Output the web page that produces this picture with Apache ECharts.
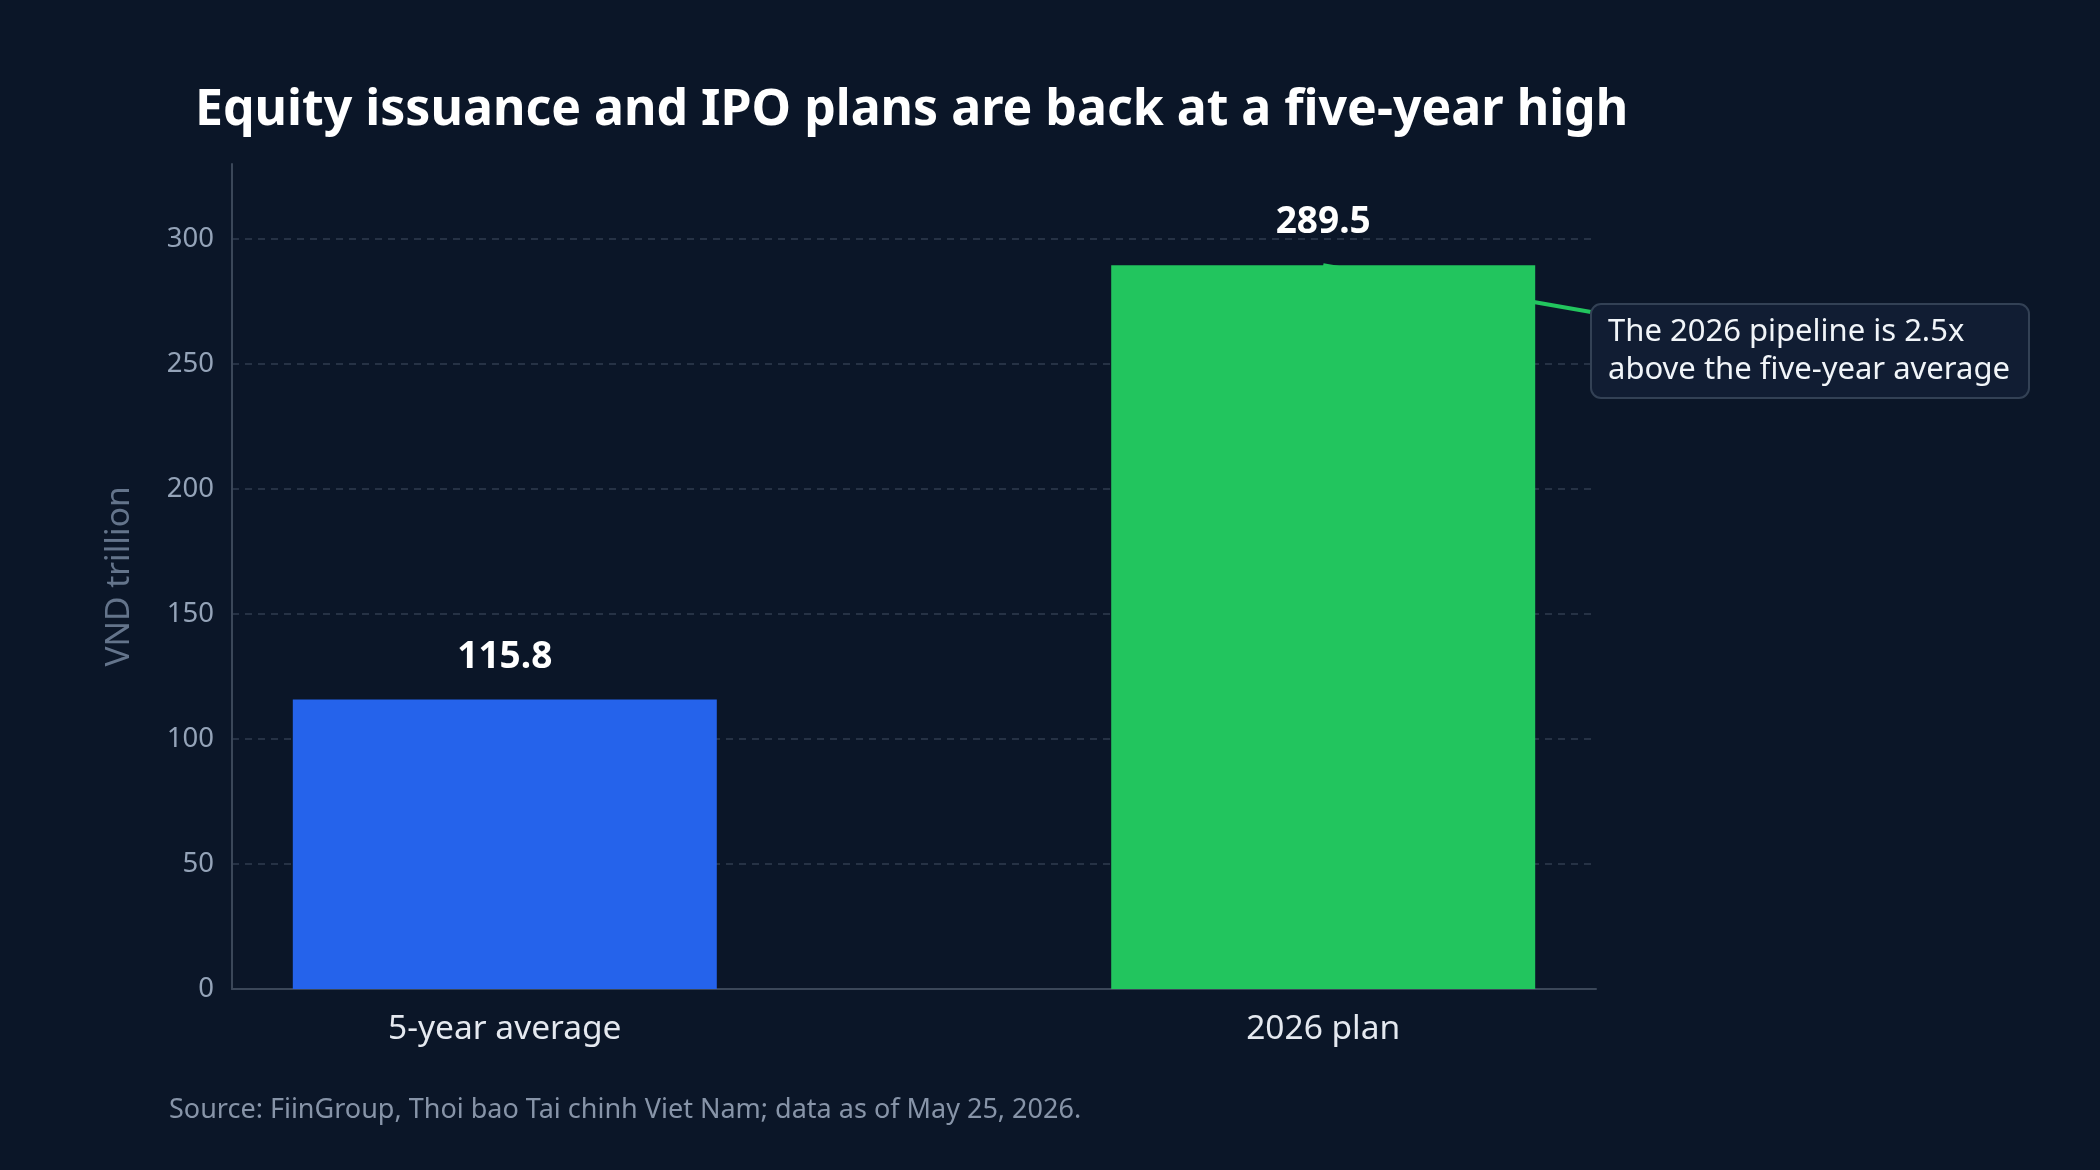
<!DOCTYPE html>
<html>
<head>
<meta charset="utf-8">
<script src="https://cdn.jsdelivr.net/npm/echarts@6/dist/echarts.min.js"></script>
<style>
html,body{margin:0;padding:0;background:#0b1628;}
#chart{width:2100px;height:1170px;}
</style>
</head>
<body>
<div id="chart"></div>
<script>
var titleText = 'Equity issuance and IPO plans are back at a five-year high';
var categories = ['5-year average', '2026 plan'];
var values = [115.8, 289.5];
var barColors = ['#2563eb', '#22c55e'];
var yTickInterval = 50;
var yMax = 330;
var yAxisName = 'VND trillion';
var noteLines = ['The 2026 pipeline is 2.5x', 'above the five-year average'];
var sourceText = 'Source: FiinGroup, Thoi bao Tai chinh Viet Nam; data as of May 25, 2026.';

// padded category axis so the two bars sit at 20% / 80% of the plot width
var slots = ['', categories[0], '', '', categories[1], ''];
var slotIndex = [1, 4];
var seriesData = slots.map(function(){ return null; });
slotIndex.forEach(function(si, i){
  seriesData[si] = { value: values[i], itemStyle: { color: barColors[i] } };
});

var chart = echarts.init(document.getElementById('chart'));
var option = {
  backgroundColor: '#0b1628',
  animation: false,
  textStyle: { fontFamily: 'Noto Sans' },
  title: {
    text: titleText,
    left: 190, top: 81,
    textStyle: { color: '#ffffff', fontSize: 50, fontWeight: 'bold', fontFamily: 'Noto Sans' }
  },
  grid: { left: 232, right: 504, top: 164, bottom: 181, containLabel: false },
  xAxis: {
    type: 'category',
    data: slots,
    boundaryGap: false,
    axisLine: { lineStyle: { color: '#3b4759', width: 2 } },
    axisTick: { show: false },
    axisLabel: { interval: 0, color: '#e5e9f0', fontSize: 33.5, margin: 23, fontFamily: 'Noto Sans' },
    splitLine: { show: false }
  },
  yAxis: {
    type: 'value',
    min: 0, max: yMax, interval: yTickInterval,
    name: yAxisName,
    nameLocation: 'middle',
    nameGap: 96,
    nameTextStyle: { color: '#64748b', fontSize: 33.5, fontFamily: 'Noto Sans' },
    axisLine: { show: true, lineStyle: { color: '#3b4759', width: 2 } },
    axisTick: { show: false },
    axisLabel: { color: '#94a3b8', fontSize: 27.5, margin: 18, showMaxLabel: false, fontFamily: 'Noto Sans' },
    splitLine: { show: true, showMaxLine: false, lineStyle: { color: 'rgba(148,163,184,0.28)', type: [7, 6], width: 1.5 } }
  },
  series: [{
    type: 'bar',
    data: seriesData,
    barWidth: 424,
    z: 3,
    label: {
      show: true, position: 'top', distance: 24,
      color: '#ffffff', fontSize: 37, fontWeight: 'bold', fontFamily: 'Noto Sans'
    }
  }]
};
chart.setOption(option);

var tip = chart.convertToPixel({ seriesIndex: 0 }, [slotIndex[1], values[1]]);
var boxX = 1591, boxY = 304, boxW = 438, boxH = 94;
chart.setOption({
  graphic: [
    {
      type: 'line', z: 1, silent: true,
      shape: { x1: boxX, y1: boxY + 8, x2: tip[0], y2: tip[1] },
      style: { stroke: '#22c55e', lineWidth: 4 }
    },
    {
      type: 'rect', z: 10,
      shape: { x: boxX, y: boxY, width: boxW, height: boxH, r: 10 },
      style: { fill: '#111d33', stroke: '#334155', lineWidth: 2 }
    },
    {
      type: 'text', z: 11,
      x: boxX + 17, y: boxY + 47,
      style: {
        text: noteLines.join('\n'),
        fill: '#f1f5f9', fontSize: 31, lineHeight: 38,
        fontFamily: 'Noto Sans', verticalAlign: 'middle', align: 'left'
      }
    },
    {
      type: 'text', z: 11,
      x: 169, y: 1110,
      style: {
        text: sourceText, fill: '#8794a8', fontSize: 27,
        fontFamily: 'Noto Sans', verticalAlign: 'middle', align: 'left'
      }
    }
  ]
});
</script>
</body>
</html>
